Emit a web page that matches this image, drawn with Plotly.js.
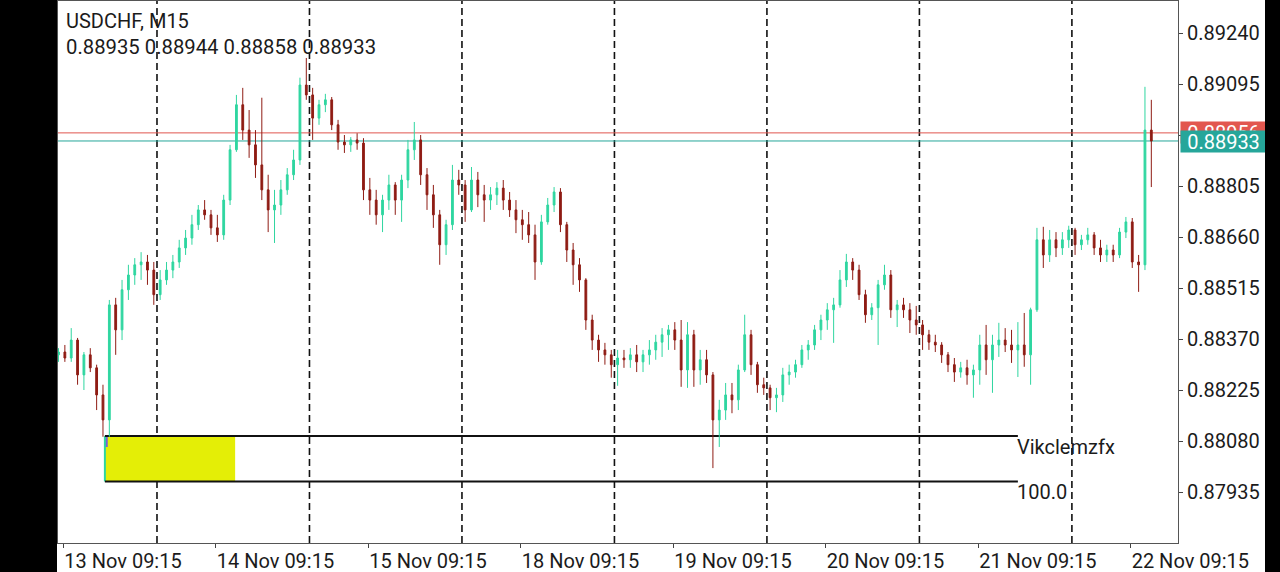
<!DOCTYPE html>
<html><head><meta charset="utf-8">
<script src="https://cdn.plot.ly/plotly-3.0.1.min.js"></script>
<style>
html,body{margin:0;padding:0;background:#000;width:1280px;height:572px;overflow:hidden;}
#chart{position:absolute;left:57px;top:0;width:1208px;height:572px;background:#fff;}
</style></head><body><div id="chart"></div>
<script>
// ---- data ----
const symbolText = 'USDCHF, M15';
const lastBarText = '0.88935 0.88944 0.88858 0.88933';
const firstHour = 8; // first hourly bar, in trading hours from 13 Nov 00:00

const open = [
0.88325,0.88333,0.88316,0.88367,0.88268,0.88325,0.88288,0.88211,0.88140,0.88467,0.88396,0.88510,0.88552,0.88581,0.88589,0.88566,
0.88496,0.88538,0.88566,0.88589,0.88629,0.88657,0.88695,0.88737,0.88723,0.88686,0.88666,0.88765,0.88908,0.89036,0.88964,0.88922,0.88865,0.88794,0.88737,0.88751,0.88794,0.88837,0.88879,0.89092,
0.89064,0.88998,0.89036,0.89050,0.88979,0.88930,0.88922,0.88936,0.88927,0.88794,0.88765,0.88723,0.88765,0.88808,0.88765,0.88822,0.88908,0.88936,0.88837,0.88780,0.88723,0.88638,0.88695,0.88822,
0.88808,0.88737,0.88822,0.88780,0.88765,0.88780,0.88799,0.88765,0.88737,0.88709,0.88695,0.88666,0.88589,0.88703,0.88751,0.88788,0.88695,0.88623,0.88581,0.88538,0.88424,0.88367,0.88339,0.88325,
0.88297,0.88316,0.88311,0.88325,0.88305,0.88325,0.88339,0.88361,0.88382,0.88396,0.88367,0.88282,0.88382,0.88282,0.88311,0.88268,0.88140,0.88168,0.88211,0.88197,0.88282,0.88382,0.88297,0.88240,
0.88231,0.88203,0.88211,0.88268,0.88276,0.88297,0.88339,0.88353,0.88396,0.88424,0.88453,0.88467,0.88538,0.88589,0.88566,0.88496,0.88439,0.88459,0.88524,0.88552,0.88453,0.88467,0.88453,0.88424,
0.88410,0.88382,0.88361,0.88353,0.88325,0.88297,0.88276,0.88288,0.88268,0.88282,0.88353,0.88311,0.88353,0.88367,0.88353,0.88339,0.88353,0.88325,0.88453,0.88652,0.88609,0.88652,0.88629,0.88652,
0.88680,0.88638,0.88652,0.88666,0.88629,0.88609,0.88623,0.88609,0.88674,0.88703,0.88589,0.88581,0.88964];

const high = [
0.88344,0.88353,0.88401,0.88373,0.88333,0.88344,0.88297,0.88240,0.88481,0.88487,0.88538,0.88581,0.88600,0.88617,0.88609,0.88589,
0.88566,0.88589,0.88609,0.88652,0.88680,0.88723,0.88751,0.88765,0.88737,0.88723,0.88780,0.88922,0.89064,0.89084,0.89021,0.88964,0.89056,0.88837,0.88794,0.88822,0.88856,0.88908,0.89113,0.89169,
0.89084,0.89050,0.89067,0.89058,0.88993,0.88950,0.88944,0.88955,0.88941,0.88828,0.88794,0.88780,0.88837,0.88816,0.88837,0.88936,0.88987,0.88950,0.88856,0.88808,0.88737,0.88709,0.88865,0.88851,
0.88822,0.88859,0.88845,0.88808,0.88802,0.88816,0.88822,0.88788,0.88765,0.88737,0.88731,0.88695,0.88723,0.88771,0.88802,0.88799,0.88703,0.88643,0.88600,0.88543,0.88439,0.88382,0.88359,0.88339,
0.88339,0.88339,0.88344,0.88353,0.88339,0.88367,0.88382,0.88401,0.88410,0.88418,0.88424,0.88418,0.88396,0.88339,0.88339,0.88276,0.88197,0.88245,0.88245,0.88297,0.88439,0.88396,0.88305,0.88260,
0.88240,0.88231,0.88288,0.88297,0.88311,0.88353,0.88367,0.88410,0.88439,0.88472,0.88487,0.88566,0.88612,0.88600,0.88581,0.88510,0.88472,0.88538,0.88581,0.88566,0.88481,0.88487,0.88472,0.88464,
0.88424,0.88396,0.88382,0.88361,0.88333,0.88316,0.88305,0.88311,0.88297,0.88382,0.88410,0.88382,0.88416,0.88401,0.88396,0.88418,0.88444,0.88459,0.88686,0.88689,0.88680,0.88674,0.88674,0.88692,
0.88686,0.88666,0.88686,0.88674,0.88652,0.88638,0.88638,0.88686,0.88717,0.88714,0.88609,0.89087,0.89050];

const low = [
0.88305,0.88305,0.88305,0.88240,0.88225,0.88276,0.88168,0.88092,0.88092,0.88325,0.88367,0.88481,0.88524,0.88538,0.88524,0.88467,
0.88481,0.88524,0.88543,0.88572,0.88609,0.88638,0.88680,0.88709,0.88666,0.88646,0.88652,0.88751,0.88902,0.88936,0.88885,0.88828,0.88765,0.88674,0.88643,0.88723,0.88780,0.88822,0.88865,0.89050,
0.88936,0.88979,0.89015,0.88964,0.88908,0.88899,0.88902,0.88908,0.88765,0.88723,0.88695,0.88674,0.88737,0.88723,0.88703,0.88799,0.88879,0.88808,0.88737,0.88686,0.88581,0.88609,0.88680,0.88780,
0.88703,0.88731,0.88745,0.88703,0.88737,0.88751,0.88737,0.88717,0.88671,0.88652,0.88643,0.88538,0.88581,0.88695,0.88731,0.88674,0.88589,0.88524,0.88504,0.88396,0.88339,0.88305,0.88297,0.88260,
0.88237,0.88288,0.88288,0.88276,0.88276,0.88297,0.88311,0.88319,0.88339,0.88339,0.88234,0.88231,0.88234,0.88240,0.88245,0.88003,0.88063,0.88140,0.88159,0.88168,0.88276,0.88268,0.88217,0.88211,
0.88168,0.88162,0.88191,0.88240,0.88260,0.88288,0.88311,0.88339,0.88367,0.88396,0.88359,0.88459,0.88518,0.88538,0.88481,0.88416,0.88424,0.88353,0.88510,0.88430,0.88404,0.88430,0.88387,0.88382,
0.88339,0.88339,0.88333,0.88302,0.88276,0.88248,0.88260,0.88240,0.88203,0.88240,0.88268,0.88217,0.88319,0.88333,0.88302,0.88262,0.88291,0.88240,0.88447,0.88572,0.88589,0.88603,0.88609,0.88629,
0.88609,0.88623,0.88638,0.88609,0.88589,0.88589,0.88589,0.88600,0.88657,0.88572,0.88504,0.88566,0.88802];

const close = [
0.88333,0.88316,0.88367,0.88268,0.88325,0.88288,0.88211,0.88140,0.88467,0.88396,0.88510,0.88552,0.88581,0.88589,0.88566,0.88496,
0.88538,0.88566,0.88589,0.88629,0.88657,0.88695,0.88737,0.88723,0.88686,0.88666,0.88765,0.88908,0.89036,0.88964,0.88922,0.88865,0.88794,0.88737,0.88751,0.88794,0.88837,0.88879,0.89092,0.89064,
0.88998,0.89036,0.89050,0.88979,0.88930,0.88922,0.88936,0.88927,0.88794,0.88765,0.88723,0.88765,0.88808,0.88765,0.88822,0.88908,0.88936,0.88837,0.88780,0.88723,0.88638,0.88695,0.88822,0.88808,
0.88737,0.88822,0.88780,0.88765,0.88780,0.88799,0.88765,0.88737,0.88709,0.88695,0.88666,0.88589,0.88703,0.88751,0.88788,0.88695,0.88623,0.88581,0.88538,0.88424,0.88367,0.88339,0.88325,0.88297,
0.88316,0.88311,0.88325,0.88305,0.88325,0.88339,0.88361,0.88382,0.88396,0.88367,0.88282,0.88382,0.88282,0.88311,0.88268,0.88140,0.88168,0.88211,0.88197,0.88282,0.88382,0.88297,0.88240,0.88231,
0.88203,0.88211,0.88268,0.88276,0.88297,0.88339,0.88353,0.88396,0.88424,0.88453,0.88467,0.88538,0.88589,0.88566,0.88496,0.88439,0.88459,0.88524,0.88552,0.88453,0.88467,0.88453,0.88424,0.88410,
0.88382,0.88361,0.88353,0.88325,0.88297,0.88276,0.88288,0.88268,0.88282,0.88353,0.88311,0.88353,0.88367,0.88353,0.88339,0.88353,0.88325,0.88453,0.88652,0.88609,0.88652,0.88629,0.88652,0.88680,
0.88638,0.88652,0.88666,0.88629,0.88609,0.88623,0.88609,0.88674,0.88703,0.88589,0.88581,0.88964,0.88933];

const dayLabels = ['13 Nov 09:15','14 Nov 09:15','15 Nov 09:15','18 Nov 09:15','19 Nov 09:15','20 Nov 09:15','21 Nov 09:15','22 Nov 09:15'];
const priceTicks = [0.87935,0.88080,0.88225,0.88370,0.88515,0.88660,0.88805,0.88950,0.89095,0.89240];
const bidPrice = 0.88933;
const askPrice = 0.88956;
const fibHigh = 0.88094;
const fibLow = 0.87965;
const fibMark = 0.88063;
const fibLabels = ['Vikclemzfx','100.0'];
const fibStartHour = 15.8, fibBoxEndHour = 36.3, fibEndHour = 159.5;

// ---- build ----
const x = open.map((_, i) => firstHour + i + 0.5);
const tickPos = dayLabels.map((_, d) => d * 24 + 9.25);
const sepPos = [1,2,3,4,5,6,7].map(d => d * 24);

const GREEN = '#2fd6a0', RED = '#8f1c14', TXT = '#1b1b1b';

const trace = {
  type: 'candlestick', x: x, open: open, high: high, low: low, close: close,
  increasing: {line: {color: GREEN, width: 1}, fillcolor: GREEN},
  decreasing: {line: {color: RED, width: 1}, fillcolor: RED},
  whiskerwidth: 0, hoverinfo: 'skip'
};

const shapes = [];
sepPos.forEach(p => shapes.push({type:'line', xref:'x', yref:'paper', x0:p, x1:p, y0:0, y1:1,
  line:{color:'#111', width:1.6, dash:'7px,4px'}, layer:'below'}));
shapes.push({type:'line', xref:'paper', yref:'y', x0:0, x1:1, y0:askPrice, y1:askPrice, line:{color:'#e0554f', width:1}, layer:'below'});
shapes.push({type:'line', xref:'paper', yref:'y', x0:0, x1:1, y0:bidPrice, y1:bidPrice, line:{color:'#26a69a', width:1}, layer:'below'});
shapes.push({type:'rect', xref:'x', yref:'y', x0:fibStartHour, x1:fibBoxEndHour, y0:fibLow, y1:fibHigh, fillcolor:'#e4ee06', line:{width:0}, layer:'below'});
shapes.push({type:'rect', xref:'x', yref:'y', x0:fibStartHour, x1:fibStartHour+0.45, y0:fibMark, y1:fibHigh, fillcolor:'#7a62d6', line:{width:0}, layer:'below'});
shapes.push({type:'line', xref:'x', yref:'y', x0:fibStartHour, x1:fibStartHour, y0:fibLow, y1:fibHigh, line:{color:GREEN, width:2}, layer:'below'});
shapes.push({type:'line', xref:'x', yref:'y', x0:fibStartHour, x1:fibEndHour, y0:fibHigh, y1:fibHigh, line:{color:'#111', width:2}, layer:'below'});
shapes.push({type:'line', xref:'x', yref:'y', x0:fibStartHour, x1:fibEndHour, y0:fibLow, y1:fibLow, line:{color:'#111', width:2}, layer:'below'});

const annotations = [
  {xref:'paper', yref:'paper', x:0, y:1, xanchor:'left', yanchor:'middle', xshift:6, yshift:-20, text:symbolText, showarrow:false, font:{size:20, color:TXT}},
  {xref:'paper', yref:'paper', x:0, y:1, xanchor:'left', yanchor:'middle', xshift:6, yshift:-46, text:lastBarText, showarrow:false, font:{size:20.3, color:TXT}},
  {xref:'x', yref:'y', x:fibEndHour, y:fibHigh, xanchor:'left', yanchor:'top', xshift:-3, yshift:3, text:fibLabels[0], showarrow:false, font:{size:20, color:TXT}},
  {xref:'x', yref:'y', x:fibEndHour, y:fibLow, xanchor:'left', yanchor:'top', xshift:-3, yshift:3, text:fibLabels[1], showarrow:false, font:{size:20, color:TXT}},
  {xref:'paper', yref:'y', x:1, y:askPrice, xanchor:'left', yanchor:'middle', xshift:2, text:askPrice.toFixed(5), showarrow:false,
    bgcolor:'#e2574f', width:83, height:19, borderpad:1, font:{size:20, color:'#fff'}},
  {xref:'paper', yref:'y', x:1, y:bidPrice, xanchor:'left', yanchor:'middle', xshift:2, yshift:-1, text:bidPrice.toFixed(5), showarrow:false,
    bgcolor:'#26a69a', width:83, height:19, borderpad:1, font:{size:20, color:'#fff'}}
];

const layout = {
  width: 1208, height: 572,
  margin: {l:1, r:87, t:1, b:29, pad:0},
  paper_bgcolor: '#fff', plot_bgcolor: '#fff',
  font: {family: 'Roboto, "Noto Sans", sans-serif', size: 20, color: TXT},
  showlegend: false,
  boxgap: 0.6,
  xaxis: {
    type: 'linear', range: [8.42, 184.7], fixedrange: true,
    tickmode: 'array', tickvals: tickPos, ticktext: dayLabels,
    ticks: 'outside', ticklen: 4, tickcolor: '#444', tickwidth: 1,
    ticklabelposition: 'outside right',
    tickfont: {size: 20, color: TXT},
    showgrid: false, zeroline: false,
    showline: true, mirror: true, linecolor: '#555', linewidth: 1,
    rangeslider: {visible: false}
  },
  yaxis: {
    side: 'right', range: [0.87790, 0.89331], fixedrange: true,
    tickmode: 'array', tickvals: priceTicks, ticktext: priceTicks.map(v => v.toFixed(5)),
    ticks: 'outside', ticklen: 4, tickcolor: '#444', tickwidth: 1,
    tickfont: {size: 20, color: TXT},
    showgrid: false, zeroline: false,
    showline: true, mirror: true, linecolor: '#555', linewidth: 1
  },
  shapes: shapes,
  annotations: annotations
};

Plotly.newPlot('chart', [trace], layout, {staticPlot: true, displayModeBar: false});
</script>
</body></html>
